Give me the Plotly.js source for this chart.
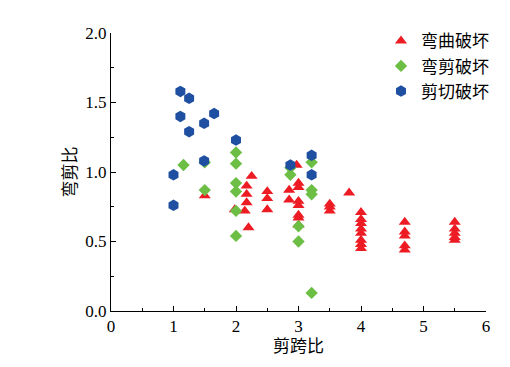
<!DOCTYPE html>
<html>
<head>
<meta charset="utf-8">
<script src="https://cdn.plot.ly/plotly-3.0.1.min.js"></script>
<style>html,body{margin:0;padding:0;background:#fff}#chart{width:510px;height:367px}</style>
</head>
<body>
<div id="chart"></div>
<script>
// 弯曲破坏 (flexural failure)
const flexX = [1.5, 1.98, 2.17, 2.25, 2.17, 2.17, 2.14, 2.2, 2.5, 2.5, 2.5, 2.85, 2.85, 2.97, 3.0, 3.0, 3.0, 3.0, 3.0, 3.0, 3.0, 3.5, 3.5, 3.5, 3.81, 4.0, 4.0, 4.0, 4.0, 4.0, 4.0, 4.0, 4.0, 4.7, 4.7, 4.7, 4.7, 4.7, 5.5, 5.5, 5.5, 5.5, 5.5];
const flexY = [0.83, 0.73, 0.90, 0.97, 0.84, 0.78, 0.72, 0.60, 0.86, 0.81, 0.73, 0.87, 0.80, 1.05, 0.92, 0.89, 0.79, 0.76, 0.69, 0.67, 0.62, 0.77, 0.75, 0.72, 0.85, 0.71, 0.66, 0.63, 0.59, 0.56, 0.51, 0.48, 0.45, 0.64, 0.57, 0.54, 0.47, 0.44, 0.64, 0.59, 0.56, 0.53, 0.51];
// 弯剪破坏 (flexure-shear failure)
const fsX = [1.16, 1.5, 1.5, 2.0, 2.0, 2.0, 2.0, 2.0, 2.0, 2.87, 2.87, 3.0, 3.0, 3.21, 3.21, 3.21, 3.21];
const fsY = [1.05, 1.07, 0.87, 1.14, 1.06, 0.92, 0.86, 0.72, 0.54, 1.03, 0.98, 0.61, 0.50, 1.07, 0.87, 0.84, 0.13];
// 剪切破坏 (shear failure)
const shX = [1.11, 1.25, 1.11, 1.65, 1.49, 1.25, 1.49, 1.0, 1.0, 2.0, 2.87, 3.21, 3.21];
const shY = [1.58, 1.53, 1.40, 1.42, 1.35, 1.29, 1.08, 0.98, 0.76, 1.23, 1.05, 1.12, 0.98];
const names = ["弯曲破坏", "弯剪破坏", "剪切破坏"];
const xTitle = "剪跨比";
const yTitle = "弯剪比";

const font = "Liberation Serif, 'Noto Sans CJK SC', serif";
const traces = [
  {x: flexX, y: flexY, name: names[0], type: "scatter", mode: "markers",
   marker: {symbol: "triangle-up", size: 10.5, color: "#ED1C24"}},
  {x: fsX, y: fsY, name: names[1], type: "scatter", mode: "markers",
   marker: {symbol: "diamond", size: 9.5, color: "#6CBE45"}},
  {x: shX, y: shY, name: names[2], type: "scatter", mode: "markers",
   marker: {symbol: "hexagon", size: 11.5, color: "#1F4FA0"}}
];
const axisCommon = {
  showgrid: false, zeroline: false, showline: true, linecolor: "#000", linewidth: 1,
  ticks: "inside", ticklen: 5, tickwidth: 1, tickcolor: "#000",
  tickfont: {family: font, size: 17, color: "#000"}
};
const layout = {
  width: 510, height: 367,
  margin: {l: 111, r: 24, t: 33, b: 56},
  paper_bgcolor: "#fff", plot_bgcolor: "#fff",
  font: {family: font, color: "#000"},
  xaxis: Object.assign({}, axisCommon, {
    range: [0, 6], dtick: 1, tick0: 0,
    minor: {dtick: 0.5, ticks: "inside", ticklen: 3, tickcolor: "#000"},
    title: {text: xTitle, font: {family: font, size: 17, color: "#000"}, standoff: 4}
  }),
  yaxis: Object.assign({}, axisCommon, {
    range: [0, 2], dtick: 0.5, tick0: 0, tickformat: ".1f",
    minor: {dtick: 0.25, ticks: "inside", ticklen: 3, tickcolor: "#000"},
    title: {text: yTitle, font: {family: font, size: 17, color: "#000"}, standoff: 4}
  }),
  legend: {x: 0.72, y: 1.035, xanchor: "left", yanchor: "top",
    font: {family: font, size: 17, color: "#000"}, itemwidth: 30,
    tracegroupgap: 0, bgcolor: "rgba(0,0,0,0)"},
  showlegend: true
};
Plotly.newPlot("chart", traces, layout, {displayModeBar: false, staticPlot: true});
</script>
</body>
</html>
